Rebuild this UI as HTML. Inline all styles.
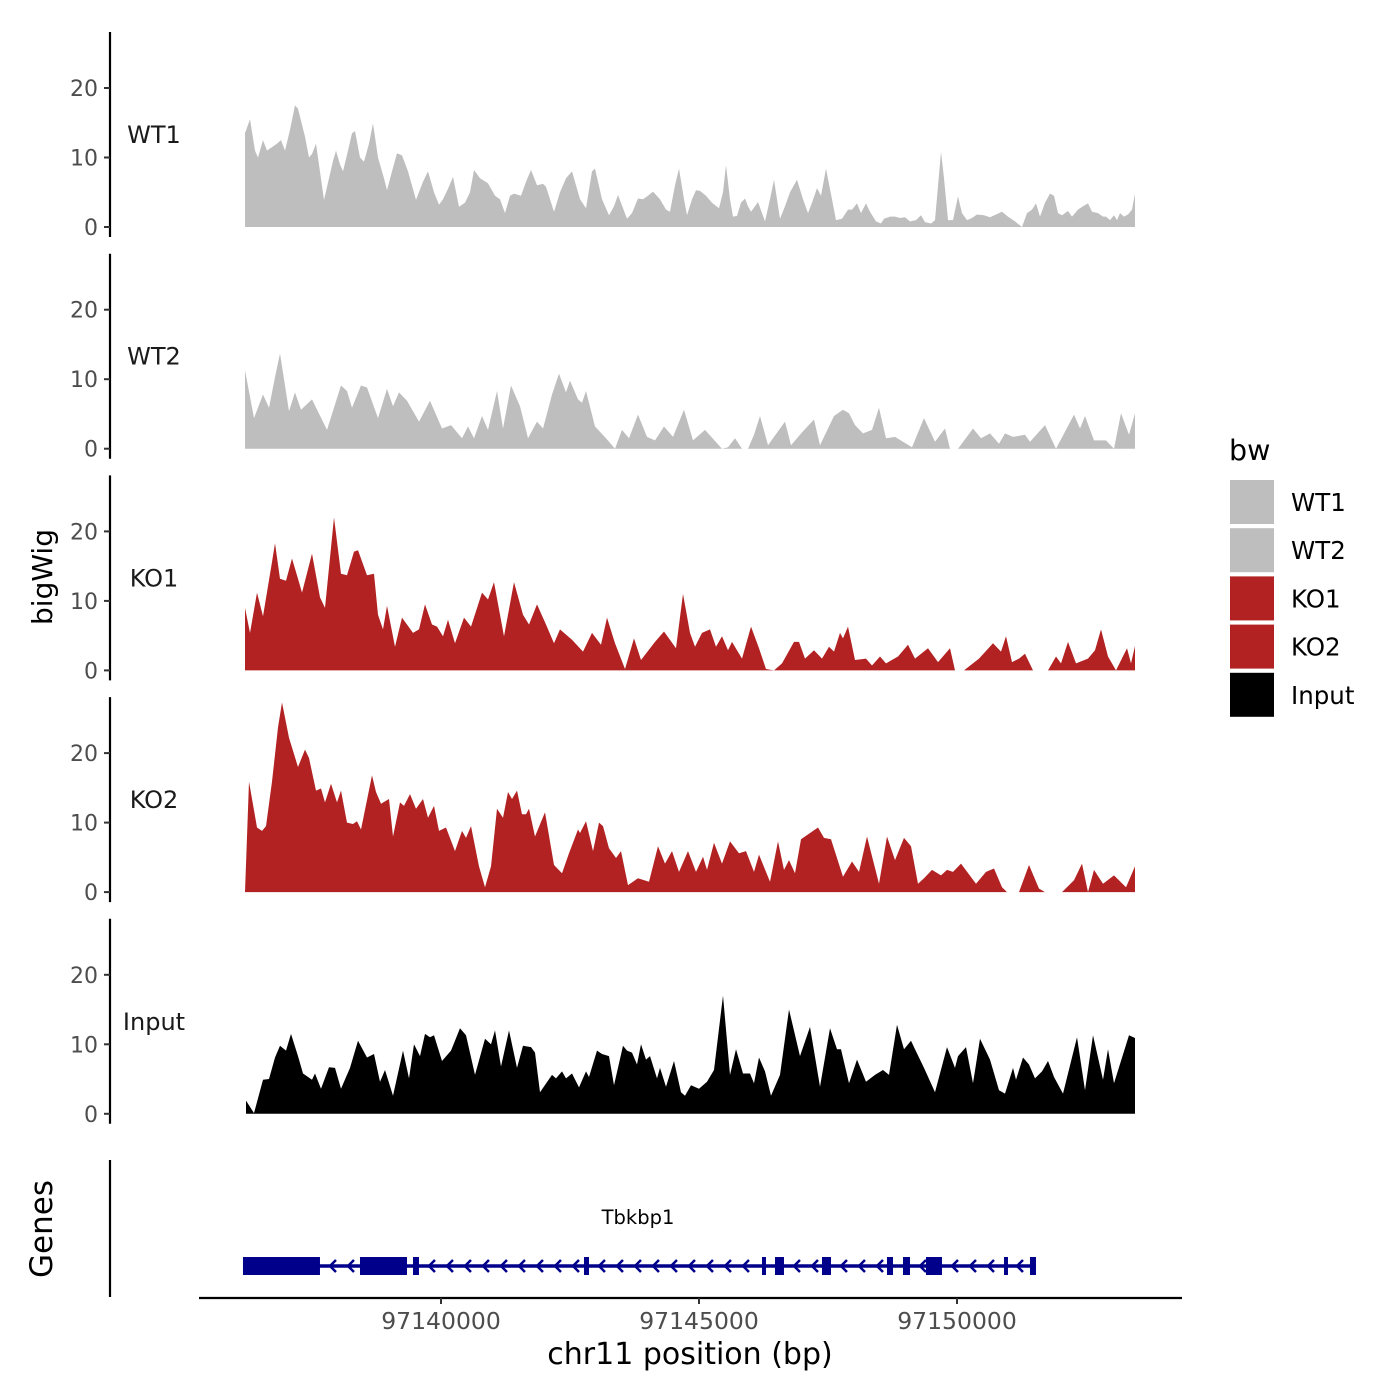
<!DOCTYPE html>
<html><head><meta charset="utf-8"><style>
html,body{margin:0;padding:0;background:#fff;}
svg{display:block;font-family:"DejaVu Sans","Liberation Sans",sans-serif;}
</style></head><body>
<svg id="chart" width="1400" height="1400" viewBox="0 0 1400 1400" xmlns="http://www.w3.org/2000/svg">
<rect width="1400" height="1400" fill="#fff"/>
<g id="panels"></g>
<g id="genes"></g>
<g id="xaxis"></g>
<text x="0" y="0" transform="translate(52,577) rotate(-90)" text-anchor="middle" font-size="28" fill="#000">bigWig</text>
<text x="0" y="0" transform="translate(52,1229) rotate(-90)" text-anchor="middle" font-size="31" fill="#000">Genes</text>
<text x="690" y="1364" text-anchor="middle" font-size="30" fill="#000">chr11 position (bp)</text>
<g id="legend"></g>
</svg>
<script>
// bin index -> bp: regionOrigin + bin*binSize
const regionOrigin = 97131453;
const binSize = 19.38;
const xTicks = [97140000, 97145000, 97150000];
const xTickLabels = ["97140000", "97145000", "97150000"];
const yTicks = [0, 10, 20];
const trackNames = ["WT1", "WT2", "KO1", "KO2", "Input"];
const trackColors = ["#bebebe", "#bebebe", "#b22222", "#b22222", "#000000"];

const wt1 = [[245,13.5],[250,15.5],[255,11],[258,10],[263,12.5],[267,11],[272,11.5],[277,12],[281,12.5],[285,11],[290,14],[295,17.5],[298,17],[305,13],[309,10],[312,10.5],[316,12],[324,3.9],[333,9.5],[336,11],[340,9],[343,8],[348,11],[352,13.5],[355,13.8],[360,10],[364,9.4],[369,12],[373,14.9],[378,10],[384,7],[387,5.3],[392,8],[397,10.6],[402,10.3],[408,8],[416,3.9],[423,6.5],[428,8],[434,5],[439,3.2],[443,4],[448,5.5],[453,7.2],[459,2.9],[465,3.5],[470,5],[474,8.2],[480,7],[488,6.3],[495,4.5],[500,4],[505,2],[510,4.5],[514,4.8],[521,4.5],[526,6.5],[531,8.2],[537,6],[543,6.2],[546,5.8],[554,2.2],[560,5],[566,7],[572,8],[576,6],[580,4],[586,2.7],[592,8],[595,8.4],[602,4],[609,1.7],[614,3],[618,4.6],[627,1.2],[632,2],[638,4.1],[643,4],[648,4.5],[653,5.1],[660,4],[666,2.5],[670,2.2],[675,6],[679,8.4],[684,4],[687,1.7],[692,4],[696,5.3],[700,5.2],[706,4.5],[712,3.5],[719,2.7],[723,5],[726,8.9],[730,4],[733,1.5],[737,1.6],[741,3.5],[745,4.1],[748,3],[751,2.2],[755,3],[758,3.6],[765,0.8],[770,4],[774,6.8],[780,1.2],[785,3],[790,5],[797,6.8],[803,4],[808,2],[812,3.5],[817,5.6],[821,4.5],[826,8.4],[832,4],[836,1],[842,1.2],[848,2.5],[852,2.5],[857,3.4],[861,2],[866,3.4],[870,2.2],[876,0.8],[881,0.5],[884,1.2],[890,1.5],[895,1.5],[900,1.3],[905,1.4],[910,0.8],[916,1],[921,1.7],[925,0.7],[931,0.5],[935,1],[941,10.8],[944,7],[948,1],[953,1],[958,4.4],[962,2],[967,1],[972,1.3],[977,1.8],[984,1.7],[990,1.4],[996,1.8],[1002,2.2],[1008,1.5],[1015,0.8],[1022,0],[1027,2],[1032,2.5],[1036,3.4],[1040,1.5],[1045,3.5],[1050,4.8],[1054,4.5],[1058,2],[1062,1.7],[1068,2.3],[1072,1.5],[1078,2.5],[1083,3],[1088,3.4],[1092,2.2],[1098,2],[1103,1.5],[1106,1.5],[1110,1],[1114,1.7],[1117,1],[1120,2],[1124,1.5],[1128,1.8],[1132,2.5],[1135,4.8]];

const wt2 = [[245,11.3],[254,4.4],[263,7.8],[269,5.9],[275,10.3],[280,13.7],[289,5.4],[295,8.1],[301,5.6],[312,7.1],[327,2.7],[341,9.1],[347,8.3],[352,5.9],[361,9.1],[367,8.8],[378,4.4],[387,8.6],[393,6.1],[399,8.1],[407,6.9],[419,3.9],[430,6.9],[442,2.9],[451,3.4],[462,1.5],[468,3.2],[474,1.5],[482,4.7],[488,2.7],[497,8.3],[503,2.9],[511,9.1],[520,6.1],[528,1.5],[537,3.9],[543,2.9],[552,7.8],[559,10.8],[566,8.1],[570,9.8],[578,7.1],[582,6.6],[586,8.3],[595,3.2],[606,1.5],[615,0],[622,2.7],[629,1.5],[638,4.9],[647,1.7],[655,1.2],[664,3.2],[673,1.7],[684,5.6],[693,1.2],[705,2.7],[722,0],[728,0.2],[735,1.5],[742,0],[748,0],[754,2],[760,4.7],[768,0.5],[785,3.9],[791,0.5],[803,2.5],[814,4.2],[820,0.5],[834,4.7],[843,5.6],[849,5.1],[855,3.4],[863,2.2],[872,2.7],[879,5.9],[886,1.5],[895,1.7],[912,0.2],[924,4.4],[935,1],[945,2.9],[950,0],[958,0],[973,2.9],[981,1.5],[990,2.2],[999,0.7],[1005,2.2],[1013,1.7],[1025,2],[1030,1],[1045,3.4],[1056,0],[1074,4.9],[1080,2.9],[1085,4.7],[1094,1.2],[1106,1.2],[1114,0],[1121,5.1],[1129,2],[1135,5.1]];

const ko1 = [[245,9],[250,5.4],[257,11.2],[263,7.8],[272,15.6],[275,18.3],[280,13.2],[286,12.9],[292,16.1],[298,13.2],[302,11.2],[312,16.8],[320,10.5],[325,9],[334,22],[341,13.9],[347,13.7],[354,17.1],[358,17.3],[367,13.7],[374,13.9],[378,8],[383,5.9],[387,9.3],[395,3.4],[402,7.6],[413,5.4],[419,5.9],[425,9.5],[432,6.6],[437,6.3],[443,4.9],[448,7.3],[455,3.9],[464,7.6],[471,6.3],[482,11.2],[488,10.2],[494,12.7],[504,4.9],[514,12.7],[523,8],[529,6.6],[537,9.5],[546,6.6],[554,3.9],[560,5.9],[572,4.4],[583,2.7],[592,5.4],[601,3.7],[607,7.6],[615,3.9],[625,0.2],[634,4.6],[641,1.5],[655,4.1],[664,5.6],[676,3.2],[683,11],[690,5.4],[695,3.4],[702,5.4],[710,5.9],[716,3.4],[722,4.9],[728,2.9],[732,4.1],[742,1.7],[751,6.3],[759,3.2],[766,0.2],[774,0],[782,1],[794,4.1],[799,4.1],[805,1.7],[814,2.9],[822,1.7],[829,3.4],[834,2.7],[840,5.4],[843,4.6],[848,6.3],[855,1.5],[866,1.7],[872,0.7],[880,2],[886,1],[898,2],[908,3.7],[915,1.7],[928,3.2],[938,1.2],[950,3.2],[955,0],[964,0],[979,1.7],[993,3.9],[1001,2.7],[1006,4.9],[1012,1.2],[1019,1.7],[1025,2.4],[1033,0],[1048,0],[1056,2],[1061,1],[1068,4.1],[1076,1],[1088,1.7],[1095,2.9],[1101,5.9],[1108,2],[1116,0],[1127,3.2],[1131,1],[1135,3.5]];

const ko2 = [[245,0],[249,15.9],[257,9.3],[262,8.8],[266,9.5],[272,15.9],[278,23.7],[282,27.3],[289,22.2],[298,18],[305,20.5],[309,19.3],[316,14.6],[321,14.9],[325,12.9],[331,15.6],[337,12.9],[341,14.6],[347,10],[353,9.8],[357,10.2],[361,9],[372,16.8],[376,14.4],[381,12.7],[389,13.4],[393,8],[400,12.9],[404,12.4],[410,14.1],[416,12],[423,13.4],[428,10.7],[434,12.4],[439,8.8],[446,9.3],[455,5.9],[462,8.8],[466,7.8],[471,9.5],[479,3.7],[485,0.7],[491,3.7],[497,12],[503,10.7],[508,14.4],[512,13.4],[517,14.6],[522,11.2],[526,11.2],[529,12],[535,8],[545,11.5],[554,3.9],[562,2.7],[569,5.6],[578,9],[580,8.5],[586,10.2],[593,5.9],[599,10],[603,9.5],[609,6.3],[616,4.9],[621,5.9],[628,1],[638,2],[649,1.5],[658,6.6],[665,4.1],[672,5.9],[679,2.9],[688,5.9],[696,2.9],[703,5.1],[707,3.2],[714,7.1],[722,4.1],[730,7.3],[739,5.6],[746,5.9],[754,2.9],[759,5.4],[770,1.5],[778,7.3],[784,3.2],[789,4.6],[795,2.7],[801,7.6],[818,9.3],[824,7.8],[831,7.6],[843,2.2],[852,4.4],[859,2.9],[867,8],[879,1.2],[887,8],[895,4.6],[904,7.8],[911,6.6],[918,1.2],[924,2],[932,3.2],[941,2.4],[947,3.2],[953,2.9],[961,4.1],[976,1.2],[986,2.9],[994,3.4],[1002,0.7],[1007,0],[1019,0],[1029,3.9],[1039,0.5],[1045,0],[1062,0],[1074,1.7],[1082,4.1],[1088,0],[1094,3.2],[1103,1.2],[1114,2.4],[1126,0.7],[1135,3.7]];

const inputTrack = [[246,1.9],[254,0.1],[263,4.9],[269,5],[275,8.1],[280,9.8],[286,9.1],[291,11.5],[298,8.3],[303,5.8],[312,4.9],[315,5.8],[321,3.6],[329,6.7],[335,6.6],[341,3.6],[350,6.6],[358,10.5],[367,8.1],[374,8.6],[380,4.6],[385,6.3],[393,2.6],[403,9.1],[409,5.1],[414,10],[420,8.3],[425,11.5],[430,11],[434,11.3],[442,7.6],[451,9.1],[460,12.3],[466,11.3],[475,5.6],[485,10.8],[491,10],[495,12],[501,6.8],[509,12],[517,6.6],[523,9.8],[531,9.6],[535,8.8],[540,3.1],[552,5.6],[556,5.1],[562,6.1],[566,5.1],[572,5.8],[579,3.8],[586,6.1],[589,5.3],[597,9.1],[602,8.6],[609,8.3],[614,4.1],[623,9.8],[627,9.1],[632,8.8],[637,7.1],[641,10],[646,7.8],[650,8.3],[657,5.1],[660,6.6],[666,3.9],[674,7.6],[681,3.1],[685,2.6],[691,4.1],[699,3.6],[707,4.6],[714,6.3],[723,17],[730,5.6],[736,9.3],[743,5.8],[750,5.8],[754,4.4],[759,8.1],[765,6.1],[771,2.6],[780,5.6],[789,15],[800,8.3],[810,12.5],[820,3.9],[830,12.3],[837,9.3],[841,9.3],[849,4.4],[857,7.8],[866,4.6],[875,5.6],[883,6.3],[889,5.6],[897,12.8],[904,9.3],[911,10.5],[915,9.3],[924,6.6],[935,3.1],[947,9.6],[955,6.6],[958,8.3],[966,9.6],[973,4.4],[980,10.8],[990,7.8],[999,3.4],[1005,2.9],[1013,6.6],[1016,4.9],[1023,8.1],[1029,7.1],[1035,5.1],[1042,6.1],[1048,7.6],[1054,5.3],[1063,2.9],[1077,11],[1085,3.4],[1093,11.3],[1103,4.9],[1108,9.3],[1114,4.4],[1129,11.3],[1135,10.9]];

const trackData = [wt1, wt2, ko1, ko2, inputTrack];

// gene model (bins): exons as [start,end]; gene span
const geneName = "Tbkbp1";
const geneSpan = [243, 1036];
const exonStarts = [243, 360, 413, 584, 762, 775, 822, 887, 903, 926, 1004, 1030];
const exonEnds   = [320, 407, 419, 589, 765, 784, 831, 893, 910, 942, 1007, 1036];

const NS = "http://www.w3.org/2000/svg";
function mk(tag, attrs, parent) {
  const e = document.createElementNS(NS, tag);
  for (const k in attrs) e.setAttribute(k, attrs[k]);
  parent.appendChild(e);
  return e;
}
function binToBp(b) { return regionOrigin + b * binSize; }
function xScale(bp) { return 441 + (bp - 97140000) * 258 / 5000; }
function yScale(i, v) { return 227 + i * 221.7 - v * 6.95; }

const panels = document.getElementById('panels');
trackNames.forEach((name, i) => {
  const g = mk('g', {}, panels);
  
  
  const top = 32 + i * 221.7;
  const ax = mk('line', {x1: 110, x2: 110, y1: top, y2: top + 205, stroke: '#000', 'stroke-width': 2.2}, g);
  
  
  yTicks.forEach(t => {
    const y = yScale(i, t);
    const tk = mk('line', {x1: 104, x2: 110, y1: y, y2: y, stroke: '#333', 'stroke-width': 2}, g);
    
    
    const tl = mk('text', {x: 98, y: y + 8, 'text-anchor': 'end', 'font-size': 22, fill: '#4d4d4d'}, g);
    tl.textContent = t;
    
    
  });
  const lab = mk('text', {x: 154, y: top + 111, 'text-anchor': 'middle', 'font-size': 24, fill: '#1a1a1a'}, g);
  lab.textContent = name;
  
  
  const pts = trackData[i];
  let d = 'M' + xScale(binToBp(pts[0][0])).toFixed(1) + ',' + yScale(i, 0).toFixed(1);
  pts.forEach(p => { d += 'L' + xScale(binToBp(p[0])).toFixed(1) + ',' + yScale(i, p[1]).toFixed(1); });
  d += 'L' + xScale(binToBp(pts[pts.length - 1][0])).toFixed(1) + ',' + yScale(i, 0).toFixed(1) + 'Z';
  const area = mk('path', {d: d, fill: trackColors[i], stroke: 'none'}, g);
  
  
});

// genes
const gg = document.getElementById('genes');
const gax = mk('line', {x1: 110, x2: 110, y1: 1160, y2: 1297, stroke: '#000', 'stroke-width': 2.2}, gg);


const gy = 1266;
const gcol = '#00008b';
const gx0 = xScale(binToBp(geneSpan[0])), gx1 = xScale(binToBp(geneSpan[1]));
const gl = mk('line', {x1: gx0, x2: gx1, y1: gy, y2: gy, stroke: gcol, 'stroke-width': 3.5}, gg);


for (let k = 0; k < exonStarts.length - 1; k++) {
  const a = xScale(binToBp(exonEnds[k])), b = xScale(binToBp(exonStarts[k + 1]));
  for (let x = a + 12; x < b - 4; x += 18) {
    const ch = mk('path', {d: `M${x + 4},${gy - 6}L${x - 2},${gy}L${x + 4},${gy + 6}`, stroke: gcol, 'stroke-width': 2.5, fill: 'none'}, gg);
    
    
  }
}
exonStarts.forEach((s, k) => {
  const a = xScale(binToBp(s)), b = xScale(binToBp(exonEnds[k]));
  const r = mk('rect', {x: a, y: gy - 9, width: Math.max(b - a, 4), height: 18, fill: gcol}, gg);
  
  
});
const gt = mk('text', {x: 638, y: 1224, 'text-anchor': 'middle', 'font-size': 19.5, fill: '#000'}, gg);
gt.textContent = geneName;



// x axis
const xg = document.getElementById('xaxis');
const xl = mk('line', {x1: 199, x2: 1182, y1: 1298, y2: 1298, stroke: '#000', 'stroke-width': 2.2}, xg);


xTicks.forEach((t, k) => {
  const x = xScale(t);
  const tk = mk('line', {x1: x, x2: x, y1: 1298, y2: 1304, stroke: '#333', 'stroke-width': 2}, xg);
  
  
  const tl = mk('text', {x: x, y: 1329, 'text-anchor': 'middle', 'font-size': 23.5, fill: '#4d4d4d'}, xg);
  tl.textContent = xTickLabels[k];
  
  
});

// legend
const lg = document.getElementById('legend');
const lt = mk('text', {x: 1229, y: 460, 'font-size': 28.5, fill: '#000'}, lg);
lt.textContent = 'bw';


trackNames.forEach((name, i) => {
  const y = 480 + i * 48.2;
  const r = mk('rect', {x: 1230, y: y, width: 44, height: 44, fill: trackColors[i]}, lg);
  
  
  const t = mk('text', {x: 1291, y: y + 31, 'font-size': 24.5, fill: '#000'}, lg);
  t.textContent = name;
  
  
});
</script>
</body></html>
